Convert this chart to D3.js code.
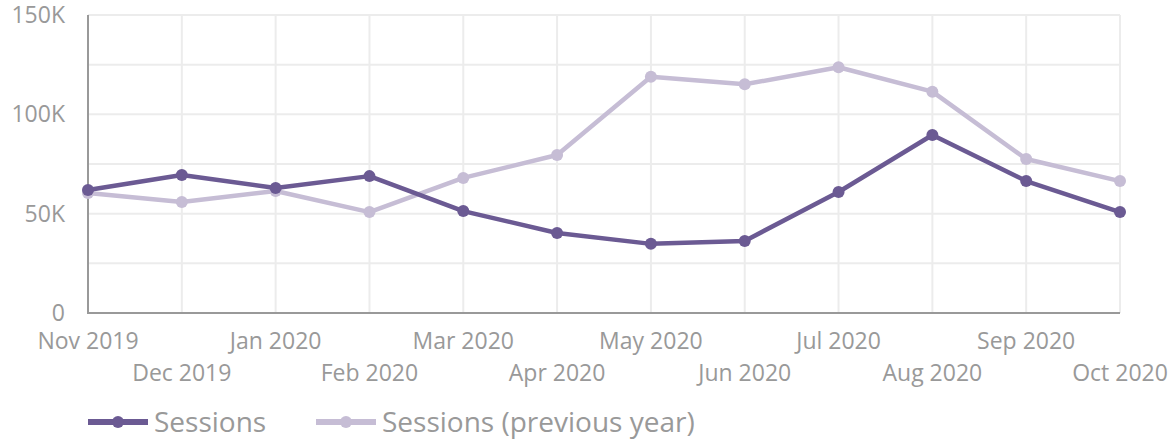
<!DOCTYPE html>
<html>
<head>
<meta charset="utf-8">
<script src="https://cdn.jsdelivr.net/npm/d3@7"></script>
<style>
  html, body { margin: 0; padding: 0; background: #fff; }
  svg { display: block; font-family: "Open Sans", sans-serif; }
</style>
</head>
<body>
<svg id="chart" width="1170" height="443"></svg>
<script>
// Monthly sessions vs. the same month a year earlier
const months = ["Nov 2019", "Dec 2019", "Jan 2020", "Feb 2020", "Mar 2020", "Apr 2020",
                "May 2020", "Jun 2020", "Jul 2020", "Aug 2020", "Sep 2020", "Oct 2020"];
const sessions = [61900, 69500, 62900, 68900, 51300, 40300, 34800, 36300, 60900, 89600, 66400, 50800];
const sessionsPrev = [60400, 55900, 61400, 50800, 68000, 79500, 118900, 115100, 123700, 111400, 77500, 66400];
const yTicks = [0, 50000, 100000, 150000];
const yGrid = [0, 25000, 50000, 75000, 100000, 125000, 150000];
const seriesNames = ["Sessions", "Sessions (previous year)"];
const seriesColors = ["#6b5a93", "#c6bdd5"];

const svg = d3.select("#chart");
const margin = { left: 88, right: 50, top: 15, bottom: 130 };
const W = 1170, H = 443;

const x = d3.scalePoint().domain(months).range([margin.left, W - margin.right]);
const y = d3.scaleLinear().domain([0, 150000]).range([H - margin.bottom, margin.top]);

// Grid
const grid = svg.append("g");
grid.selectAll("line.h").data(yGrid).join("line")
  .attr("x1", margin.left).attr("x2", W - margin.right)
  .attr("y1", d => y(d)).attr("y2", d => y(d))
  .attr("stroke", "#ececec").attr("stroke-width", 2);
grid.selectAll("line.v").data(months).join("line")
  .attr("x1", d => x(d)).attr("x2", d => x(d))
  .attr("y1", y(0)).attr("y2", y(150000))
  .attr("stroke", "#ececec").attr("stroke-width", 2);

// Axis lines
svg.append("line").attr("x1", margin.left).attr("x2", margin.left)
  .attr("y1", y(150000)).attr("y2", y(0)).attr("stroke", "#999").attr("stroke-width", 2);
svg.append("line").attr("x1", margin.left - 1).attr("x2", W - margin.right)
  .attr("y1", y(0)).attr("y2", y(0)).attr("stroke", "#999").attr("stroke-width", 2);

// Y tick labels
const fmt = d => d === 0 ? "0" : (d / 1000) + "K";
svg.append("g").selectAll("text").data(yTicks).join("text")
  .attr("x", 65).attr("y", d => y(d))
  .attr("dy", "0.35em").attr("text-anchor", "end")
  .attr("font-size", 23).attr("fill", "#999")
  .text(fmt);

// X tick labels, staggered on two rows
svg.append("g").selectAll("text").data(months).join("text")
  .attr("x", d => x(d))
  .attr("y", (d, i) => i % 2 === 0 ? 349 : 381)
  .attr("text-anchor", "middle")
  .attr("font-size", 23).attr("fill", "#999")
  .text(d => d);

// Series
const line = d3.line().x((d, i) => x(months[i])).y(d => y(d));
[sessionsPrev, sessions].forEach((vals, k) => {
  const color = k === 0 ? seriesColors[1] : seriesColors[0];
  const g = svg.append("g");
  g.append("path").datum(vals).attr("d", line)
    .attr("fill", "none").attr("stroke", color).attr("stroke-width", 4.5)
    .attr("stroke-linejoin", "round");
  g.selectAll("circle").data(vals).join("circle")
    .attr("cx", (d, i) => x(months[i])).attr("cy", d => y(d))
    .attr("r", 6).attr("fill", color);
});

// Legend
const legendX = [88, 316];
const legend = svg.append("g");
seriesNames.forEach((name, i) => {
  const g = legend.append("g").attr("transform", `translate(${legendX[i]},422)`);
  g.append("line").attr("x1", 0).attr("x2", 60).attr("y1", 0).attr("y2", 0)
    .attr("stroke", seriesColors[i]).attr("stroke-width", 6);
  g.append("circle").attr("cx", 30).attr("cy", 0).attr("r", 6).attr("fill", seriesColors[i]);
  g.append("text").attr("x", 66).attr("y", 0).attr("dy", "0.35em")
    .attr("font-size", 28).attr("fill", "#999").text(name);
});
</script>
</body>
</html>
